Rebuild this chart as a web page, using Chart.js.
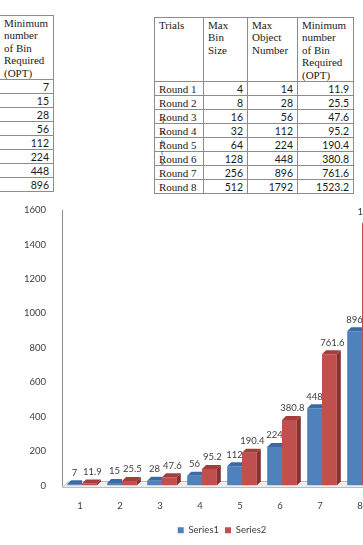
<!DOCTYPE html>
<html>
<head>
<meta charset="utf-8">
<script src="https://cdn.jsdelivr.net/npm/chart.js@4.4.0/dist/chart.umd.min.js"></script>
<style>
html, body { margin:0; padding:0; background:#fff; width:363px; height:545px; overflow:hidden; position:relative; }
table { border-collapse:collapse; position:absolute; table-layout:fixed; font-family:"Liberation Serif", serif; font-size:11px; color:#1a1a1a; }
td { border:1px solid #8c8c8c; padding:0 4px; line-height:12px; white-space:nowrap; overflow:hidden; }
tr.fila { height:14px; }
tr.cab { height:60px; }
tr.cab td { vertical-align:top; line-height:12.4px; padding-top:1px; }
td.num { font-family:Lato, sans-serif; font-size:10.5px; text-align:right; padding-right:4px; }
#tablaIzq { left:-1px; top:15px; width:55px; }
#tablaIzq tr.cab { height:60px; }
#tablaDer { left:154px; top:17px; width:199px; }
#letras { position:absolute; left:161px; top:116px; font-family:"Liberation Serif", serif; font-size:7px; line-height:10.5px; color:#1a1a1a; }
#cajaGrafico { position:absolute; left:0; top:195px; width:454px; height:350px; }
</style>
</head>
<body>

<table id="tablaIzq"><tbody></tbody></table>
<table id="tablaDer">
  <colgroup><col style="width:49px"><col style="width:44px"><col style="width:50px"><col style="width:56px"></colgroup>
  <tbody></tbody>
</table>
<div id="letras">T<br>a<br>b<br>l<br>e</div>

<div id="cajaGrafico"><canvas id="grafico"></canvas></div>

<script>
const categorias = ['1', '2', '3', '4', '5', '6', '7', '8'];
const serie1 = [7, 15, 28, 56, 112, 224, 448, 896];
const serie2 = [11.9, 25.5, 47.6, 95.2, 190.4, 380.8, 761.6, 1523.2];
const ticksY = [0, 200, 400, 600, 800, 1000, 1200, 1400, 1600];

const rondas = ['Round 1', 'Round 2', 'Round 3', 'Round 4', 'Round 5', 'Round 6', 'Round 7', 'Round 8'];
const maxBin = [4, 8, 16, 32, 64, 128, 256, 512];
const maxObjetos = [14, 28, 56, 112, 224, 448, 896, 1792];
const minBins = ['11.9', '25.5', '47.6', '95.2', '190.4', '380.8', '761.6', '1523.2'];

const cabOpt = 'Minimum<br>number<br>of Bin<br>Required<br>(OPT)';

// tablas
let htmlIzq = `<tr class="cab"><td>${cabOpt}</td></tr>`;
serie1.forEach(function(v){
    htmlIzq += `<tr class="fila"><td class="num">${v}</td></tr>`;
});
document.querySelector('#tablaIzq tbody').innerHTML = htmlIzq;

let htmlDer = `<tr class="cab">
    <td>Trials</td><td>Max<br>Bin<br>Size</td><td>Max<br>Object<br>Number</td><td>${cabOpt}</td>
</tr>`;
rondas.forEach(function(r, i){
    htmlDer += `<tr class="fila">
        <td>${r}</td>
        <td class="num">${maxBin[i]}</td>
        <td class="num">${maxObjetos[i]}</td>
        <td class="num">${minBins[i]}</td>
    </tr>`;
});
document.querySelector('#tablaDer tbody').innerHTML = htmlDer;

// efecto 3D: piso, caras laterales y superiores, etiquetas
const prof = 4;
const efecto3D = {
    id: 'efecto3D',
    beforeDatasetsDraw(chart){
        const ctx = chart.ctx;
        const area = chart.chartArea;
        const y0 = chart.scales.y.getPixelForValue(0);
        ctx.save();
        ctx.fillStyle = '#efefef';
        ctx.strokeStyle = '#bdbdbd';
        ctx.lineWidth = 1;
        ctx.beginPath();
        ctx.moveTo(area.left, y0 + 2);
        ctx.lineTo(area.left + 7, y0 - 4);
        ctx.lineTo(area.right + 10, y0 - 4);
        ctx.lineTo(area.right + 3, y0 + 2);
        ctx.closePath();
        ctx.fill();
        ctx.stroke();
        ctx.restore();
    },
    // los datasets se dibujan del ultimo al primero: Series2 y luego Series1
    afterDatasetDraw(chart, args){
        const ctx = chart.ctx;
        const ds = chart.data.datasets[args.index];
        ctx.save();
        args.meta.data.forEach(function(bar){
            const x1 = bar.x - bar.width / 2;
            const x2 = bar.x + bar.width / 2;
            if(!ds.ladoOculto){
                ctx.fillStyle = ds.colorLado;
                ctx.beginPath();
                ctx.moveTo(x2, bar.y);
                ctx.lineTo(x2 + prof, bar.y - prof);
                ctx.lineTo(x2 + prof, bar.base - prof);
                ctx.lineTo(x2, bar.base);
                ctx.closePath();
                ctx.fill();
            }
            const xfin = ds.ladoOculto ? x2 : x2 + prof;
            ctx.fillStyle = ds.colorTope;
            ctx.beginPath();
            ctx.moveTo(x1, bar.y);
            ctx.lineTo(x1 + prof, bar.y - prof);
            ctx.lineTo(xfin, bar.y - prof);
            ctx.lineTo(x2, bar.y);
            ctx.closePath();
            ctx.fill();
        });
        ctx.restore();
    },
    afterDraw(chart){
        const ctx = chart.ctx;
        ctx.save();
        ctx.font = '9.5px Lato, sans-serif';
        ctx.fillStyle = '#404040';
        ctx.textAlign = 'center';
        ctx.textBaseline = 'bottom';
        chart.data.datasets.forEach(function(ds, i){
            chart.getDatasetMeta(i).data.forEach(function(bar, j){
                ctx.fillText(String(ds.data[j]), bar.x + ds.corrEtiqueta, bar.y - prof - 3);
            });
        });
        ctx.restore();
    }
};

new Chart(document.getElementById('grafico'), {
    type: 'bar',
    plugins: [efecto3D],
    data: {
        labels: categorias,
        datasets: [
            {
                label: 'Series1',
                data: serie1,
                backgroundColor: '#4F81BD',
                colorTope: '#3B6BA6',
                ladoOculto: true,
                corrEtiqueta: 0
            },
            {
                label: 'Series2',
                data: serie2,
                backgroundColor: '#C0504D',
                colorLado: '#8A2F2D',
                colorTope: '#A53E3B',
                corrEtiqueta: 3
            }
        ]
    },
    options: {
        responsive: true,
        maintainAspectRatio: false,
        animation: false,
        layout: { padding: { top: 15, right: 72, left: 0, bottom: 0 } },
        categoryPercentage: 0.74,
        barPercentage: 1.0,
        scales: {
            x: {
                grid: { display: false },
                border: { display: false },
                ticks: { color: '#404040', font: { family: 'Lato', size: 9.5 }, padding: 7, labelOffset: -2 },
                afterFit: function(scale){ scale.height = 34; }
            },
            y: {
                min: 0,
                max: 1600,
                afterBuildTicks: function(scale){ scale.ticks = ticksY.map(v => ({ value: v })); },
                grid: { display: false },
                border: { display: true, color: '#8c8c8c', width: 1 },
                ticks: { color: '#404040', font: { family: 'Lato', size: 9.5 }, padding: 8, callback: v => v },
                afterFit: function(scale){ scale.width = 62; }
            }
        },
        plugins: {
            legend: {
                position: 'bottom',
                fullSize: false,
                labels: {
                    boxWidth: 6,
                    boxHeight: 6,
                    padding: 6,
                    color: '#404040',
                    font: { family: 'Lato', size: 9.5 }
                }
            },
            tooltip: { enabled: false }
        }
    }
});
</script>
</body>
</html>
